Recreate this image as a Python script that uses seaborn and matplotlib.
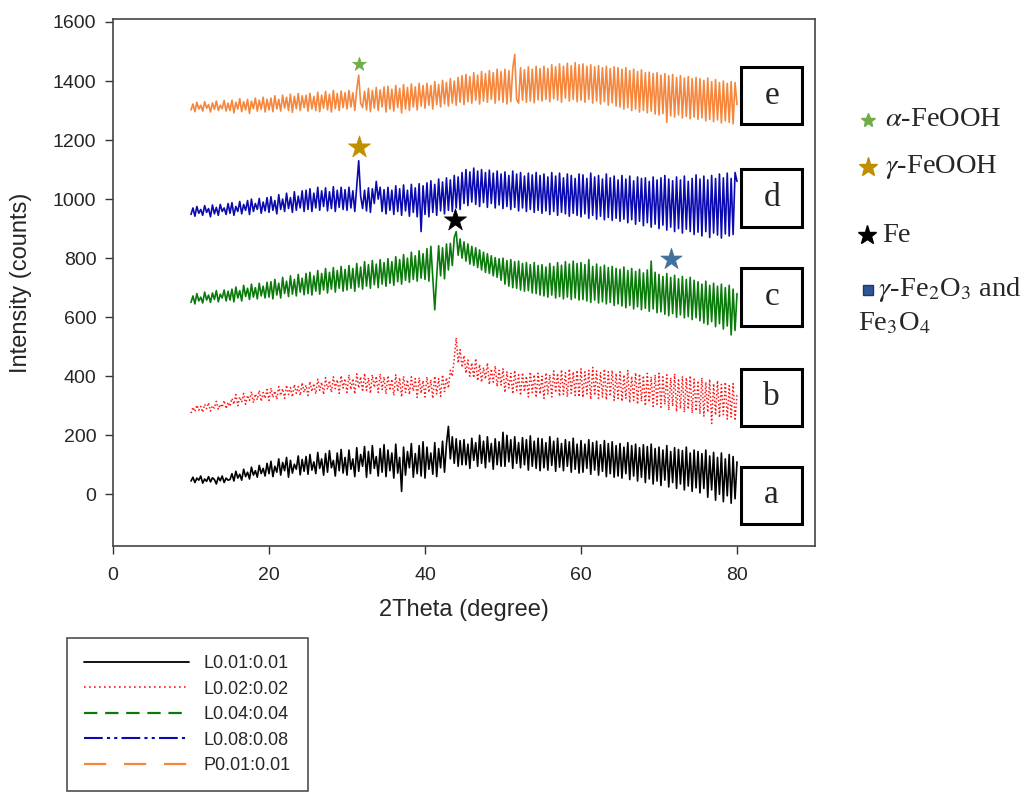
import numpy as np
import pandas as pd
import matplotlib
matplotlib.use("Agg")
import matplotlib.pyplot as plt
from matplotlib.lines import Line2D
from matplotlib.patches import Rectangle
import seaborn as sns

# ---------------- data ----------------
two_theta = np.arange(10.0, 80.001, 0.25)   # measurement grid (deg)

sample_a = [45, 58, 40, 55, 48, 62, 38, 52, 44, 60, 42, 56, 50, 35, 58, 46, 62, 40, 55, 48,
            50, 70, 45, 78, 55, 68, 48, 85, 60, 75, 52, 92, 65, 80, 58, 98, 70, 88, 62, 105,
            70, 112, 60, 95, 75, 120, 65, 108, 80, 125, 58, 115, 72, 102, 85, 130, 66, 118, 78, 128,
            68, 135, 82, 110, 70, 142, 88, 120, 65, 138, 75, 148, 90, 115, 62, 140, 80, 152, 72, 125,
            65, 150, 85, 120, 60, 158, 78, 135, 95, 162, 58, 145, 70, 165, 88, 128, 62, 155, 75, 168,
            60, 150, 80, 140, 55, 170, 72, 125, 10, 160, 65, 145, 90, 172, 58, 138, 70, 165, 62, 178,
            55, 160, 85, 140, 68, 175, 60, 155, 90, 180, 75, 170, 230, 120, 195, 105, 188, 95, 182, 100,
            185, 100, 170, 88, 190, 115, 175, 95, 200, 105, 180, 90, 195, 110, 172, 85, 188, 100, 178, 95,
            210, 95, 200, 110, 185, 88, 195, 105, 175, 90, 192, 100, 185, 82, 198, 95, 180, 88, 190, 80,
            188, 90, 175, 82, 195, 98, 180, 78, 190, 92, 172, 80, 185, 95, 178, 75, 190, 85, 170, 72,
            182, 75, 170, 88, 185, 68, 175, 82, 180, 65, 168, 78, 182, 60, 172, 70, 178, 58, 165, 62,
            172, 55, 160, 70, 175, 50, 165, 62, 170, 45, 158, 58, 168, 40, 162, 52, 170, 35, 155, 45,
            160, 30, 150, 48, 165, 25, 145, 40, 158, 20, 152, 35, 148, 15, 160, 28, 140, 10, 150, 22,
            145, 5, 138, 20, 150, -10, 130, 15, 142, -20, 125, 0, 140, -25, 120, -5, 135, -30, 128, -15,
            110]

sample_b = [275, 295, 280, 302, 285, 298, 278, 305, 290, 310, 282, 300, 292, 315, 288, 305, 295, 318, 290, 312,
            298, 325, 305, 338, 300, 330, 312, 342, 305, 335, 318, 348, 310, 340, 320, 352, 315, 345, 325, 355,
            318, 360, 328, 350, 322, 365, 335, 358, 325, 370, 338, 362, 330, 372, 342, 365, 335, 378, 345, 370,
            335, 382, 348, 375, 340, 390, 352, 380, 338, 395, 355, 385, 345, 398, 358, 388, 342, 402, 360, 392,
            345, 405, 355, 392, 340, 408, 360, 398, 348, 410, 352, 395, 342, 405, 362, 400, 345, 408, 355, 398,
            340, 402, 352, 390, 335, 405, 348, 395, 330, 400, 345, 388, 338, 398, 350, 392, 328, 395, 342, 385,
            330, 398, 345, 388, 325, 400, 340, 392, 332, 405, 348, 395, 360, 420, 400, 460, 530, 445, 490, 430,
            470, 410, 455, 400, 445, 395, 460, 385, 440, 380, 430, 390, 445, 372, 425, 380, 435, 365, 420, 370,
            425, 345, 415, 360, 410, 340, 420, 352, 405, 335, 412, 348, 400, 330, 415, 345, 405, 328, 410, 340,
            400, 325, 412, 340, 405, 330, 418, 345, 410, 332, 422, 338, 412, 330, 425, 342, 415, 335, 420, 330,
            425, 328, 415, 340, 420, 322, 430, 335, 418, 325, 412, 330, 425, 320, 415, 332, 420, 318, 410, 325,
            415, 315, 405, 325, 420, 310, 400, 318, 412, 305, 408, 315, 402, 300, 410, 312, 398, 298, 405, 305,
            410, 295, 398, 305, 405, 285, 395, 298, 408, 280, 392, 290, 400, 278, 395, 288, 402, 275, 390, 282,
            385, 272, 395, 265, 380, 278, 390, 240, 375, 268, 385, 260, 372, 270, 380, 255, 368, 262, 375, 250,
            340]

sample_c = [650, 672, 645, 680, 655, 668, 648, 685, 658, 675, 650, 682, 660, 690, 652, 678, 665, 692, 655, 688,
            658, 695, 652, 702, 665, 690, 655, 708, 670, 698, 660, 712, 668, 700, 662, 715, 672, 705, 665, 718,
            668, 720, 662, 728, 675, 715, 665, 735, 680, 722, 670, 740, 678, 728, 672, 745, 685, 732, 676, 748,
            680, 752, 675, 740, 688, 758, 678, 748, 692, 765, 682, 752, 695, 768, 685, 758, 698, 772, 688, 762,
            692, 775, 698, 765, 688, 782, 702, 770, 695, 788, 705, 778, 698, 792, 710, 780, 700, 795, 712, 785,
            705, 798, 715, 788, 708, 805, 720, 795, 712, 812, 725, 800, 718, 820, 728, 808, 722, 825, 732, 815,
            728, 832, 722, 840, 735, 625, 738, 842, 740, 835, 730, 848, 760, 850, 775, 870, 890, 810, 865, 800,
            855, 790, 848, 780, 840, 775, 835, 768, 828, 760, 820, 752, 815, 748, 808, 740, 802, 735, 798, 725,
            800, 712, 792, 705, 795, 700, 788, 698, 790, 692, 782, 688, 785, 690, 778, 682, 785, 680, 775, 675,
            778, 672, 770, 668, 782, 675, 772, 665, 785, 670, 776, 662, 788, 668, 780, 660, 790, 665, 782, 658,
            785, 660, 778, 655, 795, 650, 772, 658, 780, 648, 770, 652, 776, 645, 768, 650, 772, 640, 765, 645,
            762, 638, 770, 632, 758, 640, 765, 628, 755, 635, 762, 625, 750, 630, 760, 620, 790, 628, 752, 615,
            745, 618, 738, 610, 748, 605, 735, 612, 742, 600, 730, 608, 738, 598, 728, 602, 735, 592, 725, 598,
            720, 588, 712, 580, 722, 575, 708, 585, 715, 568, 705, 578, 712, 560, 700, 570, 708, 540, 695, 555,
            680]

sample_d = [948, 970, 942, 975, 952, 965, 945, 978, 955, 968, 940, 980, 950, 972, 945, 982, 958, 970, 948, 985,
            952, 988, 945, 975, 958, 992, 950, 982, 962, 995, 948, 1000, 958, 985, 965, 1002, 952, 990, 960, 1005,
            955, 1008, 962, 995, 950, 1015, 965, 1000, 958, 1020, 968, 1005, 955, 1025, 962, 1010, 970, 1028, 958, 1030,
            965, 1035, 958, 1020, 970, 1040, 962, 1028, 975, 1038, 960, 1025, 968, 1042, 958, 1030, 972, 1040, 965, 1032,
            962, 1040, 970, 1028, 958, 1045, 1130, 1010, 968, 1030, 960, 1038, 955, 1035, 985, 1060, 1000, 1040, 958, 1032,
            950, 1040, 962, 1030, 948, 1045, 958, 1035, 945, 1048, 960, 1030, 942, 1050, 955, 1038, 940, 1052, 890, 1045,
            948, 1055, 940, 1062, 955, 1050, 945, 1068, 960, 1058, 950, 1072, 962, 1065, 958, 1080, 970, 1075, 965, 1090,
            985, 1100, 978, 1092, 990, 1105, 982, 1095, 975, 1100, 988, 1090, 972, 1098, 985, 1088, 970, 1095, 980, 1085,
            968, 1092, 975, 1080, 965, 1095, 972, 1085, 960, 1090, 970, 1078, 958, 1088, 965, 1082, 955, 1090, 962, 1080,
            952, 1085, 960, 1075, 948, 1090, 958, 1078, 945, 1088, 955, 1072, 950, 1085, 942, 1080, 952, 1070, 945, 1085,
            940, 1082, 950, 1070, 935, 1088, 945, 1075, 932, 1080, 942, 1068, 930, 1085, 938, 1072, 928, 1078, 935, 1065,
            925, 1080, 932, 1068, 920, 1078, 930, 1062, 915, 1075, 925, 1070, 910, 1072, 920, 1060, 905, 1075, 915, 1065,
            900, 1072, 912, 1080, 895, 1068, 905, 1062, 890, 1075, 900, 1065, 885, 1078, 898, 1060, 890, 1070, 880, 1082,
            888, 1068, 875, 1078, 890, 1065, 870, 1080, 885, 1070, 878, 1085, 868, 1072, 882, 1088, 875, 1070, 880, 1090,
            1060]

sample_e = [1302, 1322, 1296, 1328, 1305, 1318, 1298, 1330, 1308, 1320, 1295, 1326, 1304, 1332, 1300, 1318, 1306, 1334, 1298, 1325,
            1300, 1335, 1292, 1328, 1305, 1340, 1296, 1330, 1302, 1338, 1290, 1332, 1306, 1342, 1298, 1335, 1304, 1345, 1295, 1338,
            1302, 1342, 1296, 1350, 1305, 1338, 1298, 1352, 1308, 1345, 1300, 1355, 1294, 1348, 1306, 1358, 1300, 1350, 1310, 1352,
            1298, 1358, 1305, 1348, 1300, 1362, 1296, 1352, 1308, 1365, 1302, 1355, 1295, 1368, 1306, 1358, 1300, 1366, 1310, 1360,
            1305, 1368, 1312, 1360, 1300, 1372, 1420, 1325, 1310, 1365, 1302, 1375, 1296, 1368, 1308, 1378, 1300, 1370, 1312, 1380,
            1295, 1382, 1305, 1372, 1298, 1385, 1310, 1375, 1292, 1388, 1305, 1378, 1300, 1390, 1312, 1380, 1302, 1392, 1315, 1385,
            1308, 1392, 1318, 1385, 1305, 1398, 1320, 1388, 1312, 1402, 1322, 1395, 1315, 1408, 1325, 1400, 1318, 1412, 1328, 1418,
            1320, 1422, 1330, 1415, 1325, 1428, 1335, 1420, 1322, 1432, 1332, 1425, 1328, 1435, 1338, 1428, 1325, 1440, 1335, 1432,
            1328, 1440, 1322, 1435, 1330, 1442, 1490, 1338, 1325, 1445, 1335, 1438, 1328, 1448, 1332, 1440, 1326, 1450, 1336, 1442,
            1332, 1450, 1338, 1442, 1330, 1455, 1340, 1448, 1335, 1458, 1328, 1450, 1342, 1460, 1332, 1452, 1338, 1462, 1330, 1455,
            1335, 1458, 1328, 1450, 1338, 1455, 1325, 1448, 1332, 1452, 1322, 1445, 1330, 1450, 1318, 1442, 1326, 1448, 1315, 1445,
            1312, 1440, 1305, 1445, 1310, 1435, 1300, 1440, 1305, 1432, 1295, 1438, 1300, 1428, 1292, 1430, 1298, 1425, 1288, 1428,
            1285, 1420, 1290, 1425, 1260, 1418, 1282, 1422, 1278, 1412, 1285, 1418, 1275, 1410, 1280, 1415, 1272, 1408, 1278, 1412,
            1270, 1408, 1275, 1402, 1265, 1410, 1270, 1398, 1262, 1405, 1268, 1395, 1258, 1400, 1265, 1392, 1260, 1398, 1255, 1395,
            1320]

series_names = ["L0.01:0.01", "L0.02:0.02", "L0.04:0.04", "L0.08:0.08", "P0.01:0.01"]
series_values = [sample_a, sample_b, sample_c, sample_d, sample_e]
series_colors = ["#000000", "#ff1a1a", "#0a7a0a", "#0a0ab0", "#f5863c"]
panel_letters = ["a", "b", "c", "d", "e"]
panel_y = [-3, 329, 668, 1004, 1350]

# peak markers (2theta, intensity)
peak_x = [31.6, 31.6, 43.9, 71.5]
peak_y = [1458, 1178, 928, 798]
peak_colors = ["#70ad47", "#bf8f00", "#000000", "#41719c"]
peak_sizes = [110, 280, 280, 260]

x_ticks = [0, 20, 40, 60, 80]
y_ticks = [0, 200, 400, 600, 800, 1000, 1200, 1400, 1600]

# ---------------- style ----------------
sns.set_style("ticks")
plt.rcParams["font.family"] = ["Liberation Sans", "DejaVu Sans"]
plt.rcParams["mathtext.fontset"] = "stix"

fig = plt.figure(figsize=(10.25, 7.94), dpi=100)
ax = fig.add_axes([113 / 1025, 1 - 546 / 794, 702 / 1025, 527 / 794])

frames = []
for name, vals in zip(series_names, series_values):
    frames.append(pd.DataFrame({"theta": two_theta, "intensity": vals, "sample": name}))
df = pd.concat(frames, ignore_index=True)

data_styles = ["-", (0, (1, 1.5)), "-", "-", "-"]
data_widths = [1.2, 1.1, 1.2, 1.2, 1.2]
for name, col, ls, w in zip(series_names, series_colors, data_styles, data_widths):
    sub = df[df["sample"] == name]
    sns.lineplot(data=sub, x="theta", y="intensity", ax=ax, color=col,
                 linestyle=ls, lw=w, estimator=None, sort=False, legend=False)

for px, py, pc, ps in zip(peak_x, peak_y, peak_colors, peak_sizes):
    sns.scatterplot(x=[px], y=[py], ax=ax, marker="*", s=ps, color=pc,
                    edgecolor=pc, linewidth=0.5, legend=False, zorder=5)

# letter boxes
for letter, yc in zip(panel_letters, panel_y):
    ax.add_patch(Rectangle((84.45 - 3.9, yc - 97), 7.8, 194, fill=True,
                           facecolor="white", edgecolor="black", lw=2.2, zorder=6))
    ax.text(84.45, yc, letter, ha="center", va="center", fontsize=24,
            family=["Liberation Serif", "DejaVu Serif"], zorder=7)

ax.set_xlim(0, 90)
ax.set_ylim(-175, 1610)
ax.set_xticks(x_ticks)
ax.set_yticks(y_ticks)
ax.tick_params(axis="both", direction="out", length=6, width=1.0,
               labelsize=14, color="#333333", pad=6)
ax.tick_params(axis="x", pad=9)
for sp in ax.spines.values():
    sp.set_color("#444444")
    sp.set_linewidth(1.2)
    sp.set_visible(True)

ax.set_xlabel("2Theta (degree)", fontsize=17)
ax.set_ylabel("Intensity (counts)", fontsize=17)
ax.xaxis.set_label_coords(0.5, -0.1)
ax.yaxis.set_label_coords(-0.115, 0.5)

# legend (line styles)
leg_styles = ["-", (0, (1, 2)), (0, (6, 3.5)), (0, (9, 2, 1.5, 2, 1.5, 2)), (0, (10, 8))]
leg_widths = [1.3, 1.2, 1.6, 1.5, 1.6]
handles = [Line2D([0], [0], color=c, linestyle=s, lw=w)
           for c, s, w in zip(series_colors, leg_styles, leg_widths)]
leg = fig.legend(handles, series_names, loc="upper left",
                 bbox_to_anchor=(67 / 1025, 1 - 638 / 794),
                 bbox_transform=fig.transFigure, fontsize=13, frameon=True,
                 fancybox=False, edgecolor="#222222", handlelength=5.8,
                 handletextpad=0.8, borderpad=0.95, labelspacing=0.47,
                 borderaxespad=0)
leg.get_frame().set_linewidth(1.2)

# phase key on the right
serif = ["Liberation Serif", "DejaVu Serif"]
key_marks = [(868, 120, "*", "#70ad47", 10), (868, 167, "*", "#bf8f00", 14),
             (867, 235, "*", "#000000", 14), (868, 290, "s", "#2f5597", 7)]
for kx, ky, km, kc, ks in key_marks:
    fig.add_artist(Line2D([kx / 1025], [1 - ky / 794], marker=km, color=kc,
                          markersize=ks, markeredgecolor="#1f3864" if km == "s" else kc,
                          linestyle="none", transform=fig.transFigure))
key_texts = [(885, 120, r"$\alpha$-FeOOH"), (885, 167, r"$\gamma$-FeOOH"),
             (882, 235, "Fe"), (878, 290, r"$\gamma$-Fe$_2$O$_3$ and"),
             (858, 324, r"Fe$_3$O$_4$")]
for tx, ty, tt in key_texts:
    fig.text(tx / 1025, 1 - ty / 794, tt, ha="left", va="center",
             fontsize=20.5, family=serif)

fig.savefig("out.png", dpi=100)
